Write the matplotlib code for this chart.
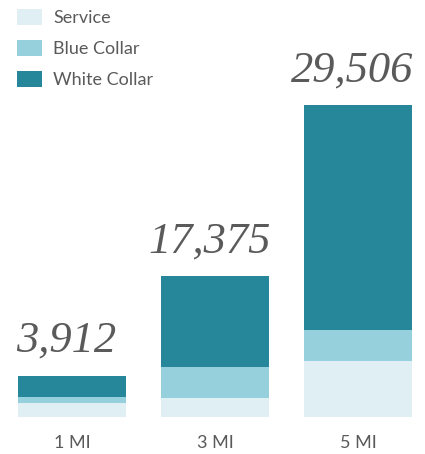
import numpy as np
import matplotlib
matplotlib.use('Agg')
import matplotlib.pyplot as plt

# Données du graphique
categories = ['1 MI', '3 MI', '5 MI']
service = [1290, 1800, 5300]
blue_collar = [580, 2930, 2930]
white_collar = [2042, 8600, 21276]
totaux = ['3,912', '17,375', '29,506']

couleurs = {'Service': '#e0eff4', 'Blue Collar': '#96d0dc', 'White Collar': '#26879a'}
gris = '#5a5a5a'

fig = plt.figure(figsize=(4.25, 4.54), dpi=100)
ax = fig.add_axes([0, 37 / 454, 1, 417 / 454])

x = np.arange(len(categories))
largeur = 0.755

# Barres empilées
bas = np.zeros(len(categories))
for nom, valeurs in [('Service', service), ('Blue Collar', blue_collar), ('White Collar', white_collar)]:
    ax.bar(x, valeurs, largeur, bottom=bas, color=couleurs[nom], label=nom, linewidth=0)
    bas += np.array(valeurs)

# Totaux au-dessus des barres
for xi, haut, txt in zip(x, bas, totaux):
    ax.annotate(txt, (xi, haut), xytext=(-4, 17), textcoords='offset points',
                ha='center', va='baseline', fontsize=32, style='italic',
                family='Liberation Serif', color=gris)

ax.set_xlim(-0.5035, 2.4685)
ax.set_ylim(0, 39440)
ax.set_xticks(x)
ax.set_xticklabels(categories, fontsize=13, family='Lato', color=gris)
ax.tick_params(axis='x', length=0, pad=13)
ax.set_yticks([])
for s in ax.spines.values():
    s.set_visible(False)

leg = ax.legend(loc='upper left', bbox_to_anchor=(17 / 425, 1 - 9 / 454),
                bbox_transform=fig.transFigure, frameon=False, borderpad=0,
                borderaxespad=0, handlelength=1.39, handleheight=1.0,
                handletextpad=0.6, labelspacing=0.76,
                prop={'family': 'Lato', 'size': 13})
for t in leg.get_texts():
    t.set_color(gris)

plt.savefig('out.png', dpi=100)
plt.close()
